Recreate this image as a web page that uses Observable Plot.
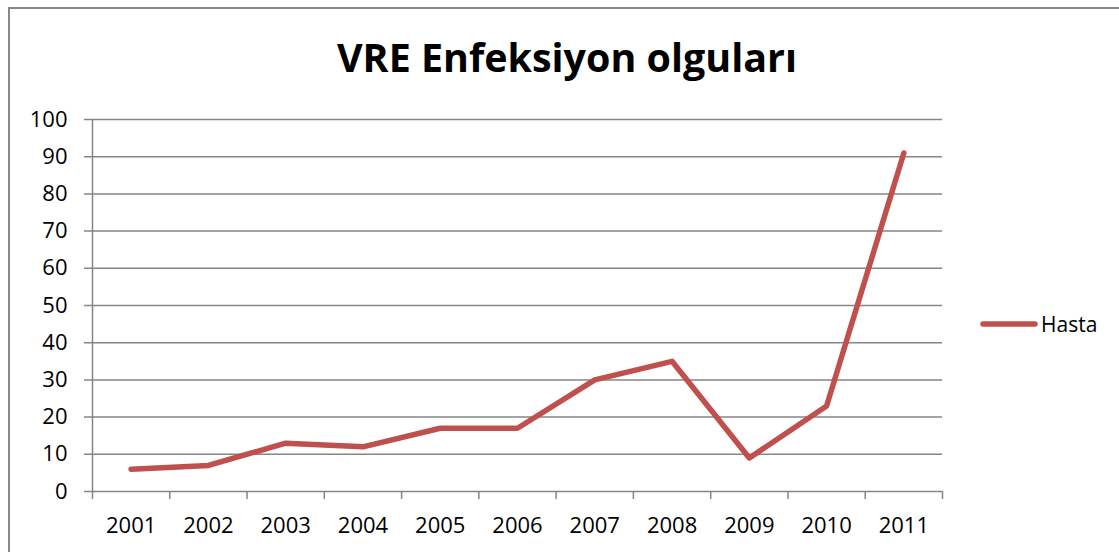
<!DOCTYPE html>
<html>
<head>
<meta charset="utf-8">
<script src="https://cdn.jsdelivr.net/npm/d3@7"></script>
<script src="https://cdn.jsdelivr.net/npm/@observablehq/plot@0.6"></script>
<style>
  html, body { margin: 0; padding: 0; background: #fff; }
  #wrap { position: relative; width: 1119px; height: 552px; overflow: hidden; font-family: "Open Sans", sans-serif; }
  #frame { position: absolute; left: 8px; top: 7px; width: 1200px; height: 600px; border-left: 2px solid #888; border-top: 2px solid #888; box-sizing: border-box; }
  #chart { position: absolute; left: 0; top: 0; }
  .overlay { position: absolute; left: 0; top: 0; pointer-events: none; }
</style>
</head>
<body>
<div id="wrap">
  <div id="frame"></div>
  <div id="chart"></div>
  <svg class="overlay" width="1119" height="552" id="over"></svg>
</div>
<script>
const title = "VRE Enfeksiyon olguları";
const seriesName = "Hasta";
const years = ["2001","2002","2003","2004","2005","2006","2007","2008","2009","2010","2011"];
const hasta = [6, 7, 13, 12, 17, 17, 30, 35, 9, 23, 91];
const yTicks = [0,10,20,30,40,50,60,70,80,90,100];

const lineColor = "#C0504D";
const gridColor = "#868686";

const rows = years.map((y, i) => ({i, year: y, value: hasta[i]}));
const idx = years.map((_, i) => i);
const bounds = [-0.5, ...idx.map(i => i + 0.5)];

const chart = Plot.plot({
  width: 1119,
  height: 552,
  marginLeft: 92,
  marginRight: 177,
  marginTop: 119,
  marginBottom: 61,
  style: {fontFamily: "Open Sans, sans-serif", background: "transparent"},
  x: {type: "linear", domain: [-0.5, years.length - 0.5], label: null},
  y: {type: "linear", domain: [0, 100], label: null},
  marks: [
    Plot.ruleY(yTicks, {y: d => d, stroke: gridColor, strokeWidth: 1.5, insetLeft: -8}),
    Plot.ruleX([-0.5], {x: d => d, stroke: gridColor, strokeWidth: 1.5}),
    Plot.axisX(bounds, {tickSize: 8, tickFormat: () => "", color: gridColor, strokeWidth: 1.5, label: null}),
    Plot.axisX(idx, {tickSize: 0, tickPadding: 26, tickFormat: i => years[i], color: "black", fontSize: 22, label: null}),
    Plot.axisY(yTicks, {tickSize: 0, tickPadding: 25, color: "black", fontSize: 22, label: null}),
    Plot.line(rows, {x: "i", y: "value", stroke: lineColor, strokeWidth: 5.5, strokeLinecap: "round", strokeLinejoin: "round"})
  ]
});
document.getElementById("chart").appendChild(chart);

const over = d3.select("#over");
over.append("text")
  .attr("x", 567).attr("y", 72)
  .attr("text-anchor", "middle")
  .attr("font-family", "Open Sans, sans-serif")
  .attr("font-weight", 700)
  .attr("font-size", 40)
  .attr("textLength", 460)
  .attr("lengthAdjust", "spacingAndGlyphs")
  .attr("fill", "black")
  .text(title);
over.append("line")
  .attr("x1", 983).attr("x2", 1035).attr("y1", 324).attr("y2", 324)
  .attr("stroke", lineColor).attr("stroke-width", 5.5).attr("stroke-linecap", "round");
over.append("text")
  .attr("x", 1041).attr("y", 332)
  .attr("font-family", "Open Sans, sans-serif")
  .attr("font-size", 21)
  .attr("fill", "black")
  .text(seriesName);
</script>
</body>
</html>
